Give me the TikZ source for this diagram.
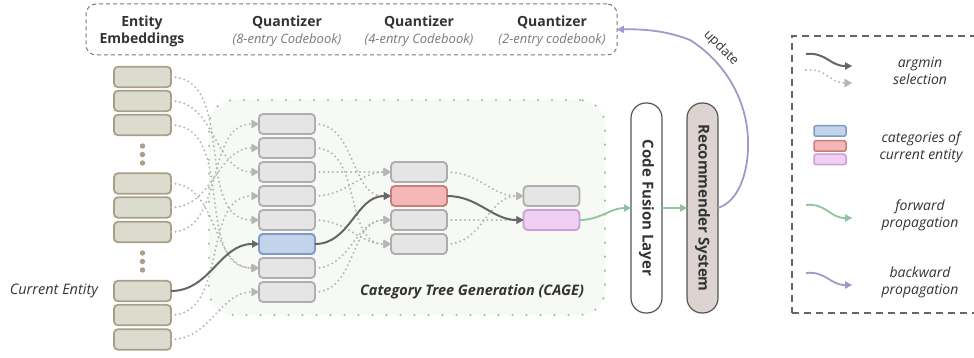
\documentclass[tikz,border=0pt]{standalone}
\usepackage{fontspec}
\setmainfont{Open Sans}
\usetikzlibrary{arrows.meta}
\definecolor{entfill}{HTML}{DCDCCE}
\definecolor{entdraw}{HTML}{A99F89}
\definecolor{qfill}{HTML}{E5E5E5}
\definecolor{qdraw}{HTML}{ADADAD}
\definecolor{bluef}{HTML}{C3D3E9}
\definecolor{blued}{HTML}{7E9BC6}
\definecolor{redf}{HTML}{F5B6B6}
\definecolor{redd}{HTML}{C97E7E}
\definecolor{purf}{HTML}{F0CEF5}
\definecolor{purd}{HTML}{C9A2D3}
\definecolor{darkarr}{HTML}{666666}
\definecolor{dotarr}{HTML}{B5B5B5}
\definecolor{greenarr}{HTML}{8FC49F}
\definecolor{purarr}{HTML}{A597C9}
\definecolor{cagefill}{HTML}{F6F9F4}
\definecolor{cagedraw}{HTML}{86CB86}
\definecolor{recfill}{HTML}{DDD3D1}
\definecolor{boxdraw}{HTML}{555555}
\definecolor{textc}{HTML}{333333}
\definecolor{subc}{HTML}{7A7A7A}
\begin{document}
\begin{tikzpicture}[x=1pt,y=-1pt,
  every node/.style={text=textc, inner sep=0pt, outer sep=0pt},
  cell/.style={draw, rounded corners=4pt, line width=1.8pt, minimum width=56pt, minimum height=20pt},
  entbox/.style={cell, fill=entfill, draw=entdraw, minimum width=57pt, minimum height=20.5pt},
  qbox/.style={cell, fill=qfill, draw=qdraw},
  legbox/.style={draw, rounded corners=2pt, line width=1.5pt, minimum width=32pt, minimum height=10.5pt},
  dotcon/.style={draw=dotarr, line width=2.2pt, line cap=round, dash pattern=on 0pt off 4.5pt,
    -{Triangle[length=7.5pt,width=8.5pt,line width=0.3pt,fill=dotarr,color=dotarr]}},
  solidcon/.style={draw=darkarr, line width=2pt,
    -{Triangle[length=7pt,width=7.5pt,line width=0.3pt]}},
  greencon/.style={draw=greenarr, line width=1.8pt,
    -{Triangle[length=7pt,width=7.5pt,line width=0.3pt]}},
  purcon/.style={draw=purarr, line width=1.8pt,
    -{Triangle[length=7pt,width=7.5pt,line width=0.3pt]}},
  headtxt/.style={font=\bfseries\fontsize{14}{17}\selectfont},
  subtxt/.style={font=\itshape\fontsize{13}{15}\selectfont, text=subc},
  legtxt/.style={font=\itshape\fontsize{14}{17}\selectfont, align=center},
  vertbox/.style={draw=boxdraw, line width=1.2pt, rounded corners=15pt, minimum width=210pt, minimum height=31pt, rotate=-90, font=\bfseries\fontsize{15}{18}\selectfont}
]
\useasboundingbox (0,0) rectangle (974,358);

% top dashed box
\node[draw=subc, dash pattern=on 4pt off 3pt, line width=1pt, rounded corners=10pt,
  minimum width=531pt, minimum height=51pt] (topbox) at (351.5,29.5) {};
\node[headtxt, align=center] (enthead) at (142,31) {Entity\\Embeddings};
\node[headtxt] (qh8) at (287,22) {Quantizer};
\node[subtxt] (qs8) at (287,40) {(8-entry Codebook)};
\node[headtxt] (qh4) at (419,22) {Quantizer};
\node[subtxt] (qs4) at (419,40) {(4-entry Codebook)};
\node[headtxt] (qh2) at (552,22) {Quantizer};
\node[subtxt] (qs2) at (552,40) {(2-entry codebook)};

% CAGE background
\node[fill=cagefill, draw=cagedraw, line width=2.3pt, line cap=round, dash pattern=on 0pt off 14pt,
  rounded corners=25pt, minimum width=396pt, minimum height=215pt] (cage) at (407,207.5) {};
\node[font=\bfseries\itshape\fontsize{14.5}{17}\selectfont] (cagelbl) at (472,292) {Category Tree Generation (CAGE)};

% entity embeddings
\foreach \n/\y in {0/77,1/101,2/125,3/183.5,4/207.5,5/232,6/291,7/315,8/339.5}
  \node[entbox] (e\n) at (142.5,\y) {};
\foreach \y in {146,154.5,163,253,261.5,270}
  \fill[entdraw] (142.5,\y) circle (2.7pt);
\node[font=\itshape\fontsize{14.5}{17}\selectfont, anchor=east] (curlbl) at (98,291) {Current Entity};

% quantizer 8
\foreach \n in {0,...,7}
  \node[qbox] (r\n) at (287,124+24*\n) {};
\node[cell, fill=bluef, draw=blued] (r5) at (287,244) {};
% quantizer 4
\foreach \n in {0,...,3}
  \node[qbox] (q\n) at (419,172+24*\n) {};
\node[cell, fill=redf, draw=redd] (q1) at (419,196) {};
% quantizer 2
\node[qbox] (t0) at (551.5,196) {};
\node[cell, fill=purf, draw=purd] (t1) at (551.5,220) {};

% dotted connectors
\foreach \a/\b in {e0/r4,e1/r2,e2/r6,e3/r6,e4/r1,e5/r0,e7/r3,e8/r7,
                   r0/q1,r1/q3,r2/q0,r3/q0,r4/q3,r6/q2,r7/q2,
                   q0/t0,q2/t1,q3/t0}
  \draw[dotcon] (\a.east) to[out=0,in=180] (\b.west);

% solid selection path
\draw[solidcon] (e6.east) to[out=0,in=180] (r5.west);
\draw[solidcon] (r5.east) to[out=0,in=180] (q1.west);
\draw[solidcon] (q1.east) to[out=0,in=180] (t1.west);

% fusion + recommender (rotated: south = left side, north = right side)
\node[vertbox, fill=white] (cfl) at (646.5,208) {Code Fusion Layer};
\node[vertbox, fill=recfill] (rec) at (702.5,208) {Recommender System};
\draw[greencon] (t1.east) to[out=0,in=180] (cfl.south);
\draw[greencon] (cfl.north) -- (rec.south);
\draw[purcon] (rec.north) .. controls (742,200) and (749,165) .. (748,140)
   .. controls (747,100) and (725,62) .. (690,40)
   .. controls (665,30) and (640,29) .. (topbox.east);
\node[font=\fontsize{13}{16}\selectfont, rotate=-45] (upd) at (721,48) {update};

% legend
\node[draw=darkarr, dash pattern=on 7pt off 5pt, line width=1.3pt, minimum width=200pt, minimum height=277pt, anchor=north west] (legend) at (792,36) {};
\coordinate (la1) at (806,54); \coordinate (la2) at (852,66);
\coordinate (lb1) at (806,70); \coordinate (lb2) at (852,83);
\coordinate (lc1) at (806,205); \coordinate (lc2) at (852,218);
\coordinate (ld1) at (806,273); \coordinate (ld2) at (852,285);
\draw[solidcon] (la1) .. controls (826,52) and (830,66) .. (la2);
\draw[dotcon] (lb1) .. controls (826,68) and (830,83) .. (lb2);
\draw[greencon] (lc1) .. controls (826,203) and (830,218) .. (lc2);
\draw[purcon] (ld1) .. controls (826,271) and (830,285) .. (ld2);
\node[legtxt] (lta) at (920,70.5) {argmin\\selection};
\node[legbox, fill=bluef, draw=blued] (lgb) at (830,131) {};
\node[legbox, fill=redf, draw=redd] (lgr) at (830,146) {};
\node[legbox, fill=purf, draw=purd] (lgp) at (830,159.5) {};
\node[legtxt] (ltb) at (921,147.5) {categories of\\current entity};
\node[legtxt] (ltc) at (920,215) {forward\\propagation};
\node[legtxt] (ltd) at (920,282.5) {backward\\propagation};
\end{tikzpicture}
\end{document}
